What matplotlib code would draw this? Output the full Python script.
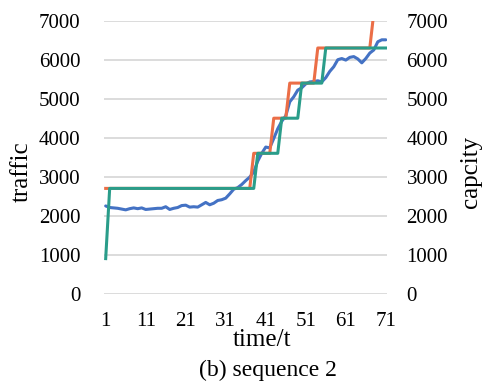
import numpy as np
import matplotlib.pyplot as plt

plt.rcParams['font.family'] = ['Liberation Serif', 'DejaVu Serif']

# ── data ───────────────────────────────────────────────────────────────────
t = np.arange(1, 72)

traffic = [2250, 2210, 2200, 2190, 2170, 2150, 2180, 2200, 2180, 2200,
           2160, 2170, 2180, 2190, 2190, 2230, 2160, 2190, 2210, 2260,
           2270, 2220, 2230, 2220, 2280, 2340, 2280, 2320, 2390, 2410,
           2450, 2560, 2680, 2720, 2800, 2900, 2990, 3120, 3400, 3600,
           3760, 3740, 3980, 4230, 4420, 4560, 4920, 5050, 5220, 5280,
           5380, 5430, 5440, 5460, 5430, 5540, 5700, 5820, 6000, 6030,
           5990, 6060, 6080, 6020, 5920, 6030, 6170, 6250, 6460, 6510,
           6510]

cap_red = [2700] * 37 + [3600] * 5 + [4500] * 4 + [5400] * 7 \
          + [6300] * 14 + [7200] * 4
cap_green = [900] + [2700] * 37 + [3600] * 6 + [4500] * 5 + [5400] * 6 \
            + [6300] * 16

yticks = [0, 1000, 2000, 3000, 4000, 5000, 6000, 7000]
xticks = [1, 11, 21, 31, 41, 51, 61, 71]

BLUE = '#4472C4'
RED = '#EB6E47'
GREEN = '#2A9D8A'
GRID = '#D9D9D9'

# ── plot ───────────────────────────────────────────────────────────────────
fig = plt.figure(figsize=(4.84, 3.89), dpi=100)
ax = fig.add_axes([104 / 484, 1 - 293.7 / 389, 283 / 484, 273 / 389])
ax2 = ax.twinx()

ax.plot(t, traffic, color=BLUE, lw=2.2, solid_capstyle='round', zorder=3)
ax2.plot(t, cap_red, color=RED, lw=2.2, zorder=3)
ax2.plot(t, cap_green, color=GREEN, lw=2.2, zorder=4)

for a in (ax, ax2):
    a.set_ylim(0, 7000)
    a.set_yticks(yticks)
    a.set_xlim(0.58, 71.3)
    for s in a.spines.values():
        s.set_visible(False)
    a.tick_params(length=0, labelsize=15)

ax.yaxis.grid(True, color=GRID, lw=1.3)
ax.set_axisbelow(True)
ax.set_xticks(xticks)
ax.tick_params(axis='y', pad=17)
ax.tick_params(axis='x', pad=13)
ax2.tick_params(axis='y', pad=14)

fig.text(262 / 484, 1 - 340 / 389, 'time/t', ha='center', va='center', fontsize=18)
fig.text(22 / 484, 1 - 172 / 389, 'traffic', ha='center', va='center',
         rotation=90, fontsize=18)
fig.text(471 / 484, 1 - 172 / 389, 'capcity', ha='center', va='center',
         rotation=90, fontsize=18)
fig.text(268 / 484, 1 - 370 / 389, '(b) sequence 2', ha='center', va='center',
         fontsize=17)

fig.savefig('out.png', dpi=100)
